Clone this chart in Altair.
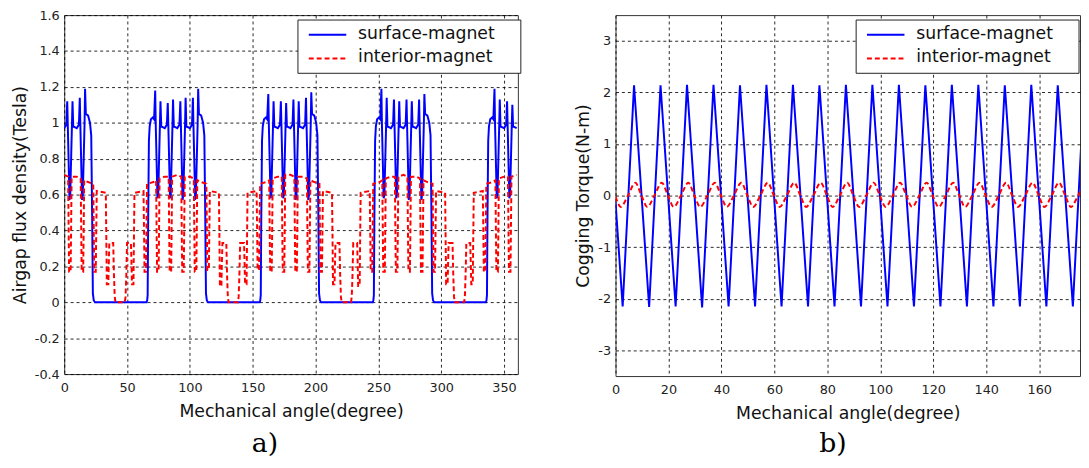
import altair as alt
import pandas as pd

# ---------------- text / ticks ----------------
series_names = ["surface-magnet", "interior-magnet"]
series_colors = ["#0000ff", "#ff0000"]
panel_labels = ["a)", "b)"]
x_title = "Mechanical angle(degree)"
flux_title = "Airgap flux density(Tesla)"
torque_title = "Cogging Torque(N-m)"
flux_x_ticks = [0, 50, 100, 150, 200, 250, 300, 350]
flux_y_ticks = [-0.4, -0.2, 0, 0.2, 0.4, 0.6, 0.8, 1.0, 1.2, 1.4, 1.6]
torque_x_ticks = [0, 20, 40, 60, 80, 100, 120, 140, 160]
torque_y_ticks = [-3, -2, -1, 0, 1, 2, 3]

# ---------------- panel a: airgap flux density ----------------
flux_angle_surface = [
    0.0, 1.7, 2.4, 2.8, 4.2, 4.8, 6.2, 6.6, 7.2, 10.0, 11.7, 12.4, 12.8, 14.2, 14.8, 16.2, 16.6, 17.2, 19.0, 20.5, 21.5, 22.2, 22.8, 23.5, 24.5,
    65.5, 66.0, 66.4, 66.8, 67.4, 68.0, 69.0, 70.5, 71.5, 72.4, 72.8, 74.2, 74.8, 76.2, 76.6, 77.2, 80.0, 81.7, 82.4, 82.8, 84.2, 84.8, 86.2, 86.6, 87.2,
    90.0, 91.7, 92.4, 92.8, 94.2, 94.8, 96.2, 96.6, 97.2, 100.0, 101.7, 102.4, 102.8, 104.2, 104.8, 106.2, 106.6, 107.2, 109.0, 110.5, 111.5, 112.2, 112.8, 113.5, 114.5,
    155.5, 156.0, 156.4, 156.8, 157.4, 158.0, 159.0, 160.5, 161.5, 162.4, 162.8, 164.2, 164.8, 166.2, 166.6, 167.2, 170.0, 171.7, 172.4, 172.8, 174.2, 174.8, 176.2, 176.6, 177.2,
    180.0, 181.7, 182.4, 182.8, 184.2, 184.8, 186.2, 186.6, 187.2, 190.0, 191.7, 192.4, 192.8, 194.2, 194.8, 196.2, 196.6, 197.2, 199.0, 200.5, 201.5, 202.2, 202.8, 203.5, 204.5,
    245.5, 246.0, 246.4, 246.8, 247.4, 248.0, 249.0, 250.5, 251.5, 252.4, 252.8, 254.2, 254.8, 256.2, 256.6, 257.2, 260.0, 261.7, 262.4, 262.8, 264.2, 264.8, 266.2, 266.6, 267.2,
    270.0, 271.7, 272.4, 272.8, 274.2, 274.8, 276.2, 276.6, 277.2, 280.0, 281.7, 282.4, 282.8, 284.2, 284.8, 286.2, 286.6, 287.2, 289.0, 290.5, 291.5, 292.2, 292.8, 293.5, 294.5,
    335.5, 336.0, 336.4, 336.8, 337.4, 338.0, 339.0, 340.5, 341.5, 342.4, 342.8, 344.2, 344.8, 346.2, 346.6, 347.2, 350.0, 351.7, 352.4, 352.8, 354.2, 354.8, 356.2, 356.6, 357.2,
    360.0,
]
flux_surface = [
    0.97, 0.99, 1.12, 1.0, 0.57, 0.6, 1.0, 1.12, 0.98, 0.97, 0.99, 1.14, 1.0, 0.57, 0.6, 1.0, 1.19, 1.05, 1.04, 1.0, 0.93, 0.5, 0.05, 0.01, 0.0,
    0.0, 0.01, 0.04, 0.45, 0.9, 0.98, 1.02, 1.03, 1.02, 1.18, 1.0, 0.58, 0.6, 1.0, 1.12, 0.98, 0.97, 0.99, 1.11, 1.0, 0.58, 0.6, 1.0, 1.13, 0.98,
    0.97, 0.99, 1.12, 1.0, 0.57, 0.6, 1.0, 1.14, 0.98, 0.97, 0.99, 1.14, 1.0, 0.57, 0.6, 1.0, 1.19, 1.05, 1.04, 1.0, 0.93, 0.5, 0.05, 0.01, 0.0,
    0.0, 0.01, 0.04, 0.45, 0.9, 0.98, 1.02, 1.03, 1.02, 1.16, 1.0, 0.58, 0.6, 1.0, 1.12, 0.98, 0.97, 0.99, 1.12, 1.0, 0.58, 0.6, 1.0, 1.11, 0.98,
    0.97, 0.99, 1.13, 1.0, 0.57, 0.6, 1.0, 1.12, 0.98, 0.97, 0.99, 1.14, 1.0, 0.57, 0.6, 1.0, 1.17, 1.05, 1.04, 1.0, 0.93, 0.5, 0.05, 0.01, 0.0,
    0.0, 0.01, 0.04, 0.45, 0.9, 0.98, 1.02, 1.03, 1.02, 1.19, 1.0, 0.58, 0.6, 1.0, 1.14, 0.98, 0.97, 0.99, 1.13, 1.0, 0.58, 0.6, 1.0, 1.12, 0.98,
    0.97, 0.99, 1.13, 1.0, 0.57, 0.6, 1.0, 1.12, 0.98, 0.97, 0.99, 1.13, 1.0, 0.57, 0.6, 1.0, 1.16, 1.05, 1.04, 1.0, 0.93, 0.5, 0.05, 0.01, 0.0,
    0.0, 0.01, 0.04, 0.45, 0.9, 0.98, 1.02, 1.03, 1.02, 1.19, 1.0, 0.58, 0.6, 1.0, 1.13, 0.98, 0.97, 0.99, 1.12, 1.0, 0.58, 0.6, 1.0, 1.1, 0.98,
    0.97,
]

flux_angle_interior = [
    0.0, 3.1, 3.6, 3.9, 5.1, 5.4, 5.9, 10.0, 13.1, 13.6, 13.9, 15.1, 15.4, 15.9, 19.0, 23.1, 23.6, 23.9, 25.1, 25.4, 25.9,
    33.1, 33.6, 33.9, 35.1, 35.4, 35.9, 39.0, 39.6, 40.2, 40.8, 48.2, 48.8, 49.4, 50.0, 53.1, 53.6, 53.9, 55.1, 55.4, 55.9,
    63.1, 63.6, 63.9, 65.1, 65.4, 65.9, 71.0, 73.1, 73.6, 73.9, 75.1, 75.4, 75.9, 80.0, 83.1, 83.6, 83.9, 85.1, 85.4, 85.9,
    90.0, 93.1, 93.6, 93.9, 95.1, 95.4, 95.9, 100.0, 103.1, 103.6, 103.9, 105.1, 105.4, 105.9, 109.0, 113.1, 113.6, 113.9, 115.1, 115.4, 115.9,
    123.1, 123.6, 123.9, 125.1, 125.4, 125.9, 129.0, 129.6, 130.2, 130.8, 138.2, 138.8, 139.4, 140.0, 143.1, 143.6, 143.9, 145.1, 145.4, 145.9,
    153.1, 153.6, 153.9, 155.1, 155.4, 155.9, 161.0, 163.1, 163.6, 163.9, 165.1, 165.4, 165.9, 170.0, 173.1, 173.6, 173.9, 175.1, 175.4, 175.9,
    180.0, 183.1, 183.6, 183.9, 185.1, 185.4, 185.9, 190.0, 193.1, 193.6, 193.9, 195.1, 195.4, 195.9, 199.0, 203.1, 203.6, 203.9, 205.1, 205.4, 205.9,
    213.1, 213.6, 213.9, 215.1, 215.4, 215.9, 219.0, 219.6, 220.2, 220.8, 228.2, 228.8, 229.4, 230.0, 233.1, 233.6, 233.9, 235.1, 235.4, 235.9,
    243.1, 243.6, 243.9, 245.1, 245.4, 245.9, 251.0, 253.1, 253.6, 253.9, 255.1, 255.4, 255.9, 260.0, 263.1, 263.6, 263.9, 265.1, 265.4, 265.9,
    270.0, 273.1, 273.6, 273.9, 275.1, 275.4, 275.9, 280.0, 283.1, 283.6, 283.9, 285.1, 285.4, 285.9, 289.0, 293.1, 293.6, 293.9, 295.1, 295.4, 295.9,
    303.1, 303.6, 303.9, 305.1, 305.4, 305.9, 309.0, 309.6, 310.2, 310.8, 318.2, 318.8, 319.4, 320.0, 323.1, 323.6, 323.9, 325.1, 325.4, 325.9,
    333.1, 333.6, 333.9, 335.1, 335.4, 335.9, 341.0, 343.1, 343.6, 343.9, 345.1, 345.4, 345.9, 350.0, 353.1, 353.6, 353.9, 355.1, 355.4, 355.9,
    360.0,
]
flux_interior = [
    0.71, 0.70, 0.35, 0.17, 0.17, 0.35, 0.70, 0.70, 0.69, 0.35, 0.17, 0.17, 0.35, 0.68, 0.67, 0.66, 0.35, 0.17, 0.17, 0.35, 0.62,
    0.61, 0.30, 0.10, 0.10, 0.20, 0.33, 0.33, 0.15, 0.03, 0.0, 0.0, 0.03, 0.15, 0.33, 0.33, 0.20, 0.10, 0.10, 0.30, 0.61,
    0.62, 0.35, 0.17, 0.17, 0.35, 0.66, 0.67, 0.68, 0.35, 0.17, 0.17, 0.35, 0.69, 0.70, 0.70, 0.35, 0.17, 0.17, 0.35, 0.70,
    0.71, 0.70, 0.35, 0.17, 0.17, 0.35, 0.70, 0.70, 0.69, 0.35, 0.17, 0.17, 0.35, 0.68, 0.67, 0.66, 0.35, 0.18, 0.18, 0.35, 0.62,
    0.61, 0.30, 0.09, 0.09, 0.20, 0.33, 0.33, 0.15, 0.03, 0.0, 0.0, 0.03, 0.15, 0.33, 0.33, 0.20, 0.10, 0.10, 0.30, 0.61,
    0.62, 0.35, 0.18, 0.18, 0.35, 0.66, 0.67, 0.68, 0.35, 0.17, 0.17, 0.35, 0.69, 0.70, 0.70, 0.35, 0.17, 0.17, 0.35, 0.71,
    0.71, 0.70, 0.35, 0.17, 0.17, 0.35, 0.70, 0.70, 0.69, 0.35, 0.17, 0.17, 0.35, 0.68, 0.67, 0.66, 0.35, 0.17, 0.17, 0.35, 0.62,
    0.61, 0.30, 0.10, 0.10, 0.20, 0.33, 0.33, 0.15, 0.03, 0.0, 0.0, 0.03, 0.15, 0.33, 0.33, 0.20, 0.09, 0.09, 0.30, 0.61,
    0.62, 0.35, 0.17, 0.17, 0.35, 0.66, 0.67, 0.68, 0.35, 0.17, 0.17, 0.35, 0.69, 0.70, 0.70, 0.35, 0.17, 0.17, 0.35, 0.70,
    0.71, 0.70, 0.35, 0.17, 0.17, 0.35, 0.70, 0.70, 0.69, 0.35, 0.17, 0.17, 0.35, 0.68, 0.67, 0.66, 0.35, 0.17, 0.17, 0.35, 0.62,
    0.61, 0.30, 0.10, 0.10, 0.20, 0.33, 0.33, 0.15, 0.03, 0.0, 0.0, 0.03, 0.15, 0.33, 0.33, 0.20, 0.10, 0.10, 0.30, 0.61,
    0.62, 0.35, 0.17, 0.17, 0.35, 0.66, 0.67, 0.68, 0.35, 0.17, 0.17, 0.35, 0.69, 0.70, 0.70, 0.35, 0.17, 0.17, 0.35, 0.70,
    0.71,
]

# ---------------- panel b: cogging torque ----------------
torque_angle_surface = [
    0.0, 2.7, 7.0, 12.7, 17.0, 22.7, 27.0, 32.7, 37.0, 42.7, 47.0, 52.7, 57.0, 62.7, 67.0, 72.7, 77.0, 82.7, 87.0,
    92.7, 97.0, 102.7, 107.0, 112.7, 117.0, 122.7, 127.0, 132.7, 137.0, 142.7, 147.0, 152.7, 157.0, 162.7, 167.0,
    172.7, 177.0, 180.0,
]
torque_surface = [
    -0.12, -2.15, 2.14, -2.16, 2.14, -2.15, 2.15, -2.17, 2.15, -2.15, 2.14, -2.15, 2.15, -2.15, 2.15, -2.15, 2.14, -2.15, 2.15,
    -2.15, 2.15, -2.15, 2.15, -2.15, 2.14, -2.15, 2.15, -2.15, 2.15, -2.15, 2.14, -2.15, 2.15, -2.15, 2.14,
    -2.15, 2.15, -0.12,
]
torque_angle_interior = [
    0.0, 2.0, 4.7, 7.5, 9.8, 12.0, 14.7, 17.5, 19.8, 22.0, 24.7, 27.5, 29.8, 32.0, 34.7, 37.5, 39.8,
    42.0, 44.7, 47.5, 49.8, 52.0, 54.7, 57.5, 59.8, 62.0, 64.7, 67.5, 69.8, 72.0, 74.7, 77.5, 79.8,
    82.0, 84.7, 87.5, 89.8, 92.0, 94.7, 97.5, 99.8, 102.0, 104.7, 107.5, 109.8, 112.0, 114.7, 117.5, 119.8,
    122.0, 124.7, 127.5, 129.8, 132.0, 134.7, 137.5, 139.8, 142.0, 144.7, 147.5, 149.8, 152.0, 154.7, 157.5, 159.8,
    162.0, 164.7, 167.5, 169.8, 172.0, 174.7, 177.5, 179.8,
]
torque_interior = [
    -0.02, -0.22, 0.0, 0.25, 0.0, -0.22, 0.0, 0.25, 0.0, -0.22, 0.0, 0.25, 0.0, -0.22, 0.0, 0.25, 0.0,
    -0.22, 0.0, 0.25, 0.0, -0.22, 0.0, 0.25, 0.0, -0.22, 0.0, 0.25, 0.0, -0.22, 0.0, 0.25, 0.0,
    -0.22, 0.0, 0.25, 0.0, -0.22, 0.0, 0.25, 0.0, -0.22, 0.0, 0.25, 0.0, -0.22, 0.0, 0.25, 0.0,
    -0.22, 0.0, 0.25, 0.0, -0.22, 0.0, 0.25, 0.0, -0.22, 0.0, 0.25, 0.0, -0.22, 0.0, 0.25, 0.0,
    -0.22, 0.0, 0.25, 0.0, -0.22, 0.0, 0.25, 0.0,
]

FONT = "DejaVu Sans"
one = pd.DataFrame({"k": [0]})
label_expr = "toString(round(datum.value * 10) / 10)"


def panel(angle_s, val_s, angle_i, val_i, x_dom, y_dom, x_ticks, y_ticks, y_title,
          width, height, legend_x, caption, caption_x, smooth_red):
    x_enc = alt.X("angle:Q",
                  scale=alt.Scale(domain=x_dom, nice=False, zero=False),
                  axis=alt.Axis(values=x_ticks, title=x_title, labelFlush=False))
    y_enc = alt.Y("value:Q",
                  scale=alt.Scale(domain=y_dom, nice=False, zero=False),
                  axis=alt.Axis(values=y_ticks, title=y_title, labelExpr=label_expr))
    df_s = pd.DataFrame({"angle": angle_s, "value": val_s})
    df_i = pd.DataFrame({"angle": angle_i, "value": val_i})
    blue = alt.Chart(df_s).mark_line(color=series_colors[0], strokeWidth=2, clip=True).encode(x=x_enc, y=y_enc)
    red_mark = dict(color=series_colors[1], strokeWidth=2, strokeDash=[5, 3], clip=True)
    if smooth_red:
        red_mark["interpolate"] = "monotone"
    red = alt.Chart(df_i).mark_line(**red_mark).encode(x=x_enc, y=y_enc)

    box = alt.Chart(one).mark_rect(fill="white", stroke="#222", strokeWidth=1).encode(
        x=alt.value(legend_x), x2=alt.value(legend_x + 226), y=alt.value(5), y2=alt.value(59))
    l1 = alt.Chart(one).mark_rule(color=series_colors[0], strokeWidth=2).encode(
        x=alt.value(legend_x + 11), x2=alt.value(legend_x + 49), y=alt.value(20))
    l2 = alt.Chart(one).mark_rule(color=series_colors[1], strokeWidth=2, strokeDash=[5, 3]).encode(
        x=alt.value(legend_x + 11), x2=alt.value(legend_x + 49), y=alt.value(44))
    t1 = alt.Chart(one).mark_text(align="left", baseline="middle", font=FONT, fontSize=17.5, color="#111").encode(
        x=alt.value(legend_x + 61), y=alt.value(19), text=alt.value(series_names[0]))
    t2 = alt.Chart(one).mark_text(align="left", baseline="middle", font=FONT, fontSize=17.5, color="#111").encode(
        x=alt.value(legend_x + 61), y=alt.value(43), text=alt.value(series_names[1]))
    cap = alt.Chart(one).mark_text(align="center", baseline="alphabetic", font="DejaVu Serif",
                                   fontSize=27, color="black").encode(
        x=alt.value(caption_x), y=alt.value(443), text=alt.value(caption))
    return alt.layer(blue, red, box, l1, l2, t1, t2, cap).properties(width=width, height=height)


panel_a = panel(flux_angle_surface, flux_surface, flux_angle_interior, flux_interior,
                [0, 361], [-0.4, 1.6], flux_x_ticks, flux_y_ticks, flux_title,
                460, 364, 237, panel_labels[0], 203.5, False)
panel_b = panel(torque_angle_surface, torque_surface, torque_angle_interior, torque_interior,
                [0, 175.4], [-3.5, 3.5], torque_x_ticks, torque_y_ticks, torque_title,
                471, 366, 244, panel_labels[1], 220.5, True)

chart = alt.hconcat(panel_a, panel_b, spacing=53).properties(
    padding={"left": 3, "top": -3, "right": 0, "bottom": 5}
).configure_view(
    stroke="#333", strokeWidth=1
).configure_axis(
    labelFont=FONT, labelFontSize=13, labelColor="#222",
    titleFont=FONT, titleFontSize=17.5, titleFontWeight="normal", titleColor="#111",
    grid=True, gridColor="#000", gridDash=[3, 3], gridOpacity=0.85, gridWidth=1,
    domain=False, ticks=False, tickSize=0, labelPadding=8,
).configure_axisX(titlePadding=8).configure_axisY(labelPadding=5, titlePadding=5)

chart.save("out.html", embed_options={"renderer": "svg", "actions": False})
